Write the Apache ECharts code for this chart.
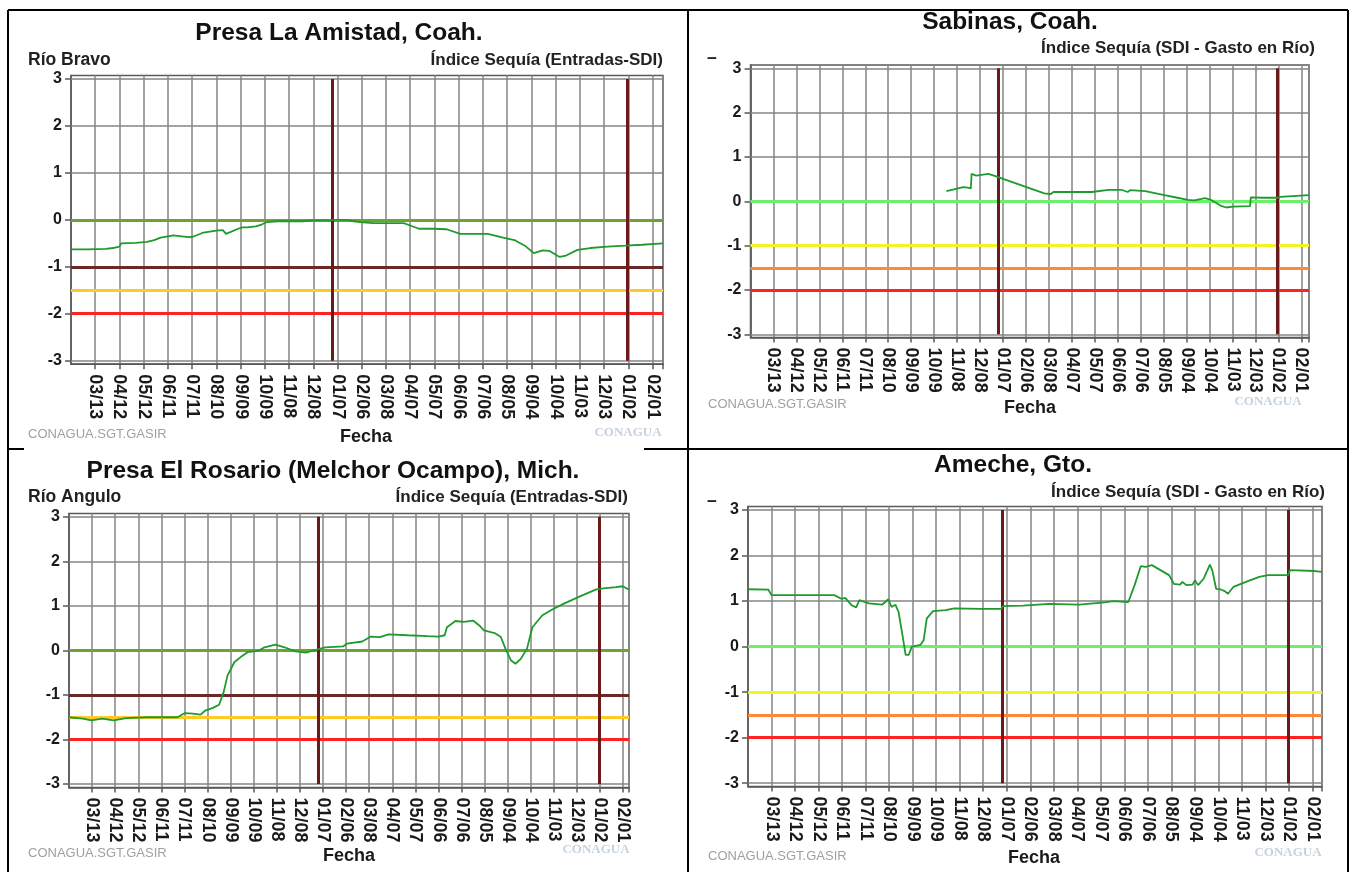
<!DOCTYPE html>
<html>
<head>
<meta charset="utf-8">
<script src="https://cdn.jsdelivr.net/npm/echarts@6/dist/echarts.min.js"></script>
<style>
html,body{margin:0;padding:0;background:#fff;}
#c{width:1352px;height:872px;}
</style>
</head>
<body>
<div id="c"></div>
<script>
// ---- tick labels (every 30 days, index 0 = start of axis) ----
const xTickLabels = ['02/11','03/13','04/12','05/12','06/11','07/11','08/10','09/09','10/09','11/08','12/08','01/07','02/06','03/08','04/07','05/07','06/06','07/06','08/05','09/04','10/04','11/03','12/03','01/02','02/01'];
const yTicks = [-3,-2,-1,0,1,2,3];
const yearStartDays = [324, 689];

// ---- thresholds ----
const thresholdValues = [0, -1, -1.5, -2];

// ---- Presa La Amistad ----
const amistadDays = [0,20,43,52,57,60,62,80,94,103,111,127,137,146,151,164,180,188,190,192,207,212,218,229,236,242,256,288,299,320,326,342,350,358,374,412,420,431,449,465,482,516,535,549,562,573,584,592,605,613,627,643,664,686,707,733];
const amistadSDI = [-0.63,-0.63,-0.62,-0.60,-0.58,-0.57,-0.50,-0.49,-0.47,-0.43,-0.38,-0.33,-0.35,-0.37,-0.36,-0.27,-0.23,-0.22,-0.21,-0.30,-0.19,-0.16,-0.16,-0.14,-0.10,-0.05,-0.03,-0.03,-0.01,-0.01,0,0,-0.03,-0.05,-0.07,-0.07,-0.12,-0.19,-0.19,-0.20,-0.30,-0.30,-0.38,-0.43,-0.55,-0.71,-0.65,-0.66,-0.79,-0.76,-0.64,-0.60,-0.57,-0.55,-0.53,-0.50];

// ---- Sabinas ----
const sabinasDays = [256,266,278,284,288,289,295,311,320,384,392,396,446,468,485,493,496,516,530,541,558,572,580,588,594,602,616,622,630,653,654,670,689,692,730];
const sabinasSDI = [0.23,0.27,0.32,0.31,0.29,0.62,0.58,0.62,0.57,0.18,0.16,0.21,0.21,0.26,0.26,0.21,0.25,0.23,0.18,0.14,0.08,0.03,0.02,0.05,0.07,0.03,-0.11,-0.14,-0.12,-0.11,0.09,0.08,0.08,0.10,0.14];

// ---- Presa El Rosario ----
const rosarioDays = [0,18,29,43,58,74,102,125,141,150,161,171,177,187,195,201,206,215,223,232,246,254,268,280,294,308,322,333,356,361,381,392,404,415,440,466,480,488,491,502,513,525,533,539,553,561,567,574,580,587,595,602,615,629,643,666,685,697,711,719,727];
const rosarioSDI = [-1.50,-1.53,-1.57,-1.53,-1.57,-1.52,-1.50,-1.50,-1.50,-1.41,-1.42,-1.44,-1.35,-1.29,-1.22,-0.93,-0.56,-0.26,-0.15,-0.04,-0.01,0.07,0.13,0.07,-0.02,-0.05,0.02,0.07,0.09,0.15,0.20,0.31,0.30,0.36,0.34,0.32,0.31,0.34,0.52,0.66,0.64,0.67,0.56,0.45,0.39,0.30,0.04,-0.22,-0.30,-0.19,0.04,0.52,0.79,0.93,1.05,1.23,1.37,1.40,1.42,1.44,1.37];

// ---- Ameche ----
const amecheDays = [0,26,30,110,119,124,132,138,142,154,171,179,183,188,192,197,201,205,209,220,224,228,236,252,263,296,323,325,351,384,422,455,466,485,493,501,507,515,526,537,543,551,554,559,567,570,574,581,589,592,597,602,608,612,619,635,652,663,689,691,723,732];
const amecheSDI = [1.26,1.25,1.13,1.13,1.05,1.07,0.91,0.86,1.02,0.95,0.92,1.04,0.87,0.92,0.76,0.25,-0.18,-0.18,0,0.04,0.14,0.62,0.78,0.80,0.84,0.83,0.83,0.89,0.90,0.94,0.92,0.97,1.00,0.98,1.35,1.77,1.75,1.79,1.68,1.57,1.38,1.36,1.42,1.35,1.36,1.46,1.35,1.49,1.80,1.68,1.27,1.26,1.22,1.16,1.31,1.42,1.53,1.57,1.57,1.68,1.66,1.64];

// ---- styles / layout ----
const FONT = '"Liberation Sans", Arial, Helvetica, sans-serif';
const presaColors = ['#6ea232', '#6b2828', '#ffc926', '#ff2222'];
const rioColors = ['#6cf06c', '#f4f424', '#ff8a33', '#ff2222'];
const GRID_COLOR = '#858585';
const Y_PAD = 0.075;   // plot frame sits a little outside the ±3 gridlines
const panels = [
  {days: amistadDays, vals: amistadSDI, max: 733, colors: presaColors,
   grid: {left: 71, top: 75.5, width: 592, height: 288.7},
   title: 'Presa La Amistad, Coah.', tx: 339, ty: 33,
   sub: 'Río Bravo', sx: 28, sy: 60, idx: 'Índice Sequía (Entradas-SDI)', ix: 663, iy: 60,
   fx: 366, fy: 437, cx: 28, cy: 434, lx: 628, ly: 433},
  {days: sabinasDays, vals: sabinasSDI, max: 730, colors: rioColors,
   grid: {left: 750.5, top: 65, width: 558.5, height: 272.6},
   title: 'Sabinas, Coah.', tx: 1010, ty: 22,
   sub: '–', sx: 707, sy: 58, idx: 'Índice Sequía (SDI - Gasto en Río)', ix: 1315, iy: 48,
   fx: 1030, fy: 408, cx: 708, cy: 404, lx: 1268, ly: 402},
  {days: rosarioDays, vals: rosarioSDI, max: 727.5, colors: presaColors,
   grid: {left: 69, top: 513.4, width: 560, height: 274},
   title: 'Presa El Rosario (Melchor Ocampo), Mich.', tx: 333, ty: 471,
   sub: 'Río Angulo', sx: 28, sy: 497, idx: 'Índice Sequía (Entradas-SDI)', ix: 628, iy: 497,
   fx: 349, fy: 856, cx: 28, cy: 853, lx: 596, ly: 850},
  {days: amecheDays, vals: amecheSDI, max: 732, colors: rioColors,
   grid: {left: 748, top: 506.6, width: 574, height: 280},
   title: 'Ameche, Gto.', tx: 1013, ty: 465,
   sub: '–', sx: 707, sy: 501, idx: 'Índice Sequía (SDI - Gasto en Río)', ix: 1325, iy: 492,
   fx: 1034, fy: 858, cx: 708, cy: 856, lx: 1288, ly: 853}
];

const yMin = yTicks[0], yMax = yTicks[yTicks.length - 1];
const grids = [], xAxes = [], yAxes = [], series = [], graphics = [];
panels.forEach((p, i) => {
  grids.push(Object.assign({show: true, borderColor: '#5a5a5a', borderWidth: 1.5, backgroundColor: '#fff'}, p.grid));
  xAxes.push({
    gridIndex: i, type: 'value', min: 0, max: p.max, interval: 30, position: 'bottom',
    axisLine: {show: true, onZero: false, lineStyle: {color: '#5a5a5a', width: 1.5}},
    axisTick: {show: true, length: 5, lineStyle: {color: '#5a5a5a', width: 1.5}},
    axisLabel: {
      rotate: -90, margin: 10, fontSize: 18, fontWeight: 'bold', color: '#1a1a1a', fontFamily: FONT,
      showMinLabel: false,
      formatter: v => (v % 30 === 0 && v > 0 && xTickLabels[v / 30]) ? xTickLabels[v / 30] : ''
    },
    splitLine: {show: true, lineStyle: {color: GRID_COLOR, width: 1.5}}
  });
  yAxes.push({
    gridIndex: i, type: 'value', min: yMin - Y_PAD, max: yMax + Y_PAD,
    axisLine: {show: true, lineStyle: {color: '#5a5a5a', width: 1.5}},
    axisTick: {show: true, length: 6, customValues: yTicks, lineStyle: {color: '#5a5a5a', width: 1.5}},
    axisLabel: {margin: 9, fontSize: 16, fontWeight: 'bold', color: '#1a1a1a', fontFamily: FONT, customValues: yTicks},
    splitLine: {show: false}
  });
  // horizontal gridlines, thresholds and year-start lines
  const mlData = yTicks.map(t => ({yAxis: t, lineStyle: {color: GRID_COLOR, width: 1.5, type: 'solid'}}))
    .concat(thresholdValues.map((t, k) => ({yAxis: t, lineStyle: {color: p.colors[k], width: 3, type: 'solid'}})))
    .concat(yearStartDays.map(d => [
      {coord: [d, yMin], lineStyle: {color: '#6b1a1a', width: 3, type: 'solid'}},
      {coord: [d, yMax]}
    ]));
  series.push({
    type: 'line', xAxisIndex: i, yAxisIndex: i, data: [], silent: true, z: 3,
    markLine: {silent: true, symbol: ['none', 'none'], label: {show: false}, animation: false, z: 4, data: mlData}
  });
  series.push({
    type: 'line', xAxisIndex: i, yAxisIndex: i, z: 10, showSymbol: false, symbol: 'none',
    data: p.days.map((d, k) => [d, p.vals[k]]),
    lineStyle: {color: '#1f9a2c', width: 1.8}
  });
  // texts
  graphics.push({type: 'text', x: p.tx, y: p.ty, z: 20, style: {text: p.title, font: 'bold 24.5px ' + FONT, fill: '#111', align: 'center', verticalAlign: 'middle'}});
  graphics.push({type: 'text', x: p.sx, y: p.sy, z: 20, style: {text: p.sub, font: 'bold 17.5px ' + FONT, fill: '#222', align: 'left', verticalAlign: 'middle'}});
  graphics.push({type: 'text', x: p.ix, y: p.iy, z: 20, style: {text: p.idx, font: 'bold 17px ' + FONT, fill: '#222', align: 'right', verticalAlign: 'middle'}});
  graphics.push({type: 'text', x: p.fx, y: p.fy, z: 20, style: {text: 'Fecha', font: 'bold 18px ' + FONT, fill: '#1a1a1a', align: 'center', verticalAlign: 'middle'}});
  graphics.push({type: 'text', x: p.cx, y: p.cy, z: 20, style: {text: 'CONAGUA.SGT.GASIR', font: '13px ' + FONT, fill: '#a0a0a0', align: 'left', verticalAlign: 'middle'}});
  graphics.push({type: 'text', x: p.lx, y: p.ly, z: 20, style: {text: 'CONAGUA', font: 'bold 13px "Liberation Serif", serif', fill: '#c8d2de', align: 'center', verticalAlign: 'middle'}});
});

// table borders
const borderLines = [
  [8, 10, 1348, 10], [8, 10, 8, 872], [688, 10, 688, 872], [1348, 10, 1348, 872],
  [8, 449, 24, 449], [644, 449, 1348, 449]
];
borderLines.forEach(b => graphics.push({type: 'line', z: 30, shape: {x1: b[0], y1: b[1], x2: b[2], y2: b[3]}, style: {stroke: '#000', lineWidth: 2}}));

const chart = echarts.init(document.getElementById('c'), null, {renderer: 'canvas'});
chart.setOption({
  animation: false,
  backgroundColor: '#fff',
  grid: grids, xAxis: xAxes, yAxis: yAxes, series: series, graphic: graphics
});
</script>
</body>
</html>
